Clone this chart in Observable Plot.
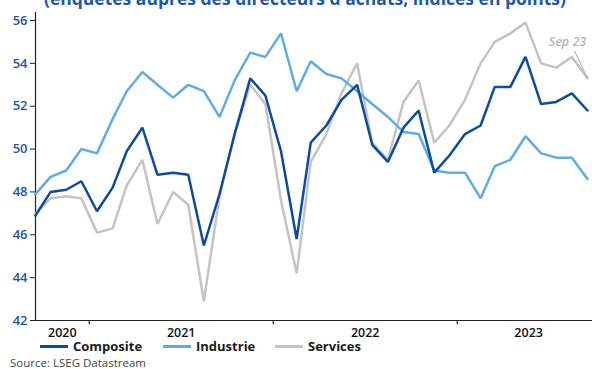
<!DOCTYPE html>
<html>
<head>
<meta charset="utf-8">
<script src="https://cdn.jsdelivr.net/npm/d3@7"></script>
<script src="https://cdn.jsdelivr.net/npm/@observablehq/plot@0.6"></script>
<style>
  html, body { margin: 0; padding: 0; background: #fff; }
  #wrap { position: relative; width: 592px; height: 369px; overflow: hidden; font-family: "Open Sans", sans-serif; }
  #title { position: absolute; left: 44px; top: -14px; font-size: 17.5px; font-weight: 700; color: #1f57a8; white-space: nowrap; }
  #chart { position: absolute; left: 0; top: 0; }
  #legend { position: absolute; left: 0; top: 339px; height: 14px; width: 592px; font-size: 13px; line-height: 14px; font-weight: 700; color: #1a1a1a; }
  .item { position: absolute; top: 0; display: flex; align-items: center; height: 14px; }
  .sw { width: 28px; height: 3px; margin-right: 5px; }
  #source { position: absolute; left: 10px; top: 357px; font-size: 11.5px; line-height: 11px; height: 11px; color: #444; white-space: nowrap; }
</style>
</head>
<body>
<div id="wrap">
  <div id="title">(enquêtes auprès des directeurs d'achats, indices en points)</div>
  <div id="chart"></div>
  <div id="legend"></div>
  <div id="source">Source: LSEG Datastream</div>
</div>
<script>
// Monthly, Sep 2020 .. Sep 2023
const startMonth = "2020-09-01";
const composite = [46.9, 48.0, 48.1, 48.5, 47.1, 48.2, 49.9, 51.0, 48.8, 48.9, 48.8, 45.5, 47.9,
  50.7, 53.3, 52.5, 49.9, 45.8, 50.3, 51.1, 52.3, 53.0, 50.2, 49.4, 51.0, 51.8, 48.9, 49.7,
  50.7, 51.1, 52.9, 52.9, 54.3, 52.1, 52.2, 52.6, 51.8];
const industrie = [47.9, 48.7, 49.0, 50.0, 49.8, 51.4, 52.7, 53.6, 53.0, 52.4, 53.0, 52.7, 51.5,
  53.2, 54.5, 54.3, 55.4, 52.7, 54.1, 53.5, 53.3, 52.7, 52.1, 51.5, 50.8, 50.7, 49.0, 48.9,
  48.9, 47.7, 49.2, 49.5, 50.6, 49.8, 49.6, 49.6, 48.6];
const services = [47.0, 47.7, 47.8, 47.7, 46.1, 46.3, 48.3, 49.5, 46.5, 48.0, 47.4, 42.9, 47.8,
  50.7, 53.0, 52.1, 47.6, 44.2, 49.4, 50.7, 52.6, 54.0, 50.3, 49.5, 52.2, 53.2, 50.3, 51.1,
  52.3, 54.0, 55.0, 55.4, 55.9, 54.0, 53.8, 54.3, 53.3];
const seriesNames = ["Composite", "Industrie", "Services"];
const seriesColors = ["#0b4c9c", "#5daee3", "#c4c4c4"];
const yTicks = [42, 44, 46, 48, 50, 52, 54, 56];
const yearLabels = ["2020", "2021", "2022", "2023"];
const lastLabel = "Sep 23";

const months = d3.utcMonth.range(new Date(startMonth), d3.utcMonth.offset(new Date(startMonth), composite.length));
const rows = [];
[["Composite", composite], ["Industrie", industrie], ["Services", services]].forEach(([name, vals]) => {
  vals.forEach((v, i) => rows.push({series: name, date: months[i], value: v}));
});

// year boundaries: midway between December and January points
const boundaries = [2021, 2022, 2023].map(y => {
  const dec = Date.UTC(y - 1, 11, 1), jan = Date.UTC(y, 0, 1);
  return new Date((dec + jan) / 2);
});
const first = months[0], last = months[months.length - 1];
const rightEdge = d3.utcMonth.offset(last, 1);
const segs = [first, ...boundaries, new Date((+last + +rightEdge) / 2 + 10 * 864e5)];
const yearPos = yearLabels.map((t, i) => ({label: t, date: new Date((+segs[i] + +segs[i + 1]) / 2)}));

const lastServ = rows.filter(d => d.series === "Services").slice(-1)[0];

const chart = Plot.plot({
  width: 592,
  height: 338,
  marginTop: 20,
  marginBottom: 18,
  marginLeft: 35,
  marginRight: 5,
  style: {fontFamily: "Open Sans, sans-serif", background: "transparent", overflow: "visible"},
  x: {type: "utc", domain: [first, last], axis: null},
  y: {domain: [42, 56], axis: null},
  color: {domain: seriesNames, range: seriesColors},
  marks: [
    Plot.axisY({ticks: yTicks, label: null, tickSize: 5, tickPadding: 3, stroke: "#222", fill: "#2456a6", fontSize: 13, fontWeight: 600, tickFormat: d => d}),
    Plot.ruleX([first], {y1: 42, y2: 56.37, stroke: "#222", strokeWidth: 1.2}),
    Plot.ruleY([42], {x1: first, x2: rightEdge, stroke: "#222", strokeWidth: 1.2}),
    Plot.ruleX(boundaries, {x: d => d, y1: 42, y2: 41.8, stroke: "#222", strokeWidth: 1.2}),
    Plot.text(yearPos, {x: "date", y: () => 42, dy: 12, text: "label", fontSize: 12.5, fontWeight: 600, fill: "#111"}),
    Plot.line(rows.filter(d => d.series === "Services"), {x: "date", y: "value", stroke: "series", strokeWidth: 2.5, strokeLinejoin: "miter"}),
    Plot.line(rows.filter(d => d.series === "Industrie"), {x: "date", y: "value", stroke: "series", strokeWidth: 2.5, strokeLinejoin: "miter"}),
    Plot.line(rows.filter(d => d.series === "Composite"), {x: "date", y: "value", stroke: "series", strokeWidth: 2.5, strokeLinejoin: "miter"}),
    Plot.link([lastServ], {x1: "date", y1: "value", x2: d => d3.utcDay.offset(d.date, -26), y2: d => d.value + 1.3, stroke: "#aaa", strokeWidth: 1}),
    Plot.text([lastServ], {x: "date", y: "value", dx: -20, dy: -36, text: () => lastLabel, fill: "#b5b5b5", fontSize: 12.5, fontWeight: 600, fontStyle: "italic"})
  ]
});
document.getElementById("chart").appendChild(chart);

const legendPos = [40, 163, 275];
const legend = document.getElementById("legend");
seriesNames.forEach((n, i) => {
  const it = document.createElement("div");
  it.className = "item";
  it.style.left = legendPos[i] + "px";
  it.innerHTML = `<span class="sw" style="background:${seriesColors[i]}"></span><span>${n}</span>`;
  legend.appendChild(it);
});
</script>
</body>
</html>
